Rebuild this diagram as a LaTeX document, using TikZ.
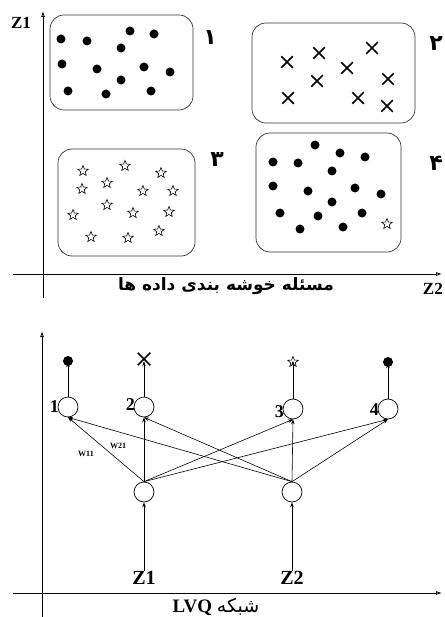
\documentclass[tikz,border=0pt]{standalone}
\usepackage{fontspec}
\setmainfont{Liberation Serif}
\newfontfamily\fa[Script=Arabic]{DejaVu Sans}
\TeXXeTstate=1
\usetikzlibrary{shapes.geometric,shapes.misc,arrows.meta}
\tikzset{
  cluster/.style={draw=black!80,rounded corners=14pt,line width=0.7pt},
  dotmark/.style={circle,fill=black,inner sep=0pt,minimum size=9pt},
  starmark/.style={star,star points=5,star point ratio=2.3,draw,inner sep=0pt,minimum size=11pt,line width=0.6pt},
  crossmark/.style={cross out,draw,inner sep=0pt,minimum size=10pt,line width=1.5pt},
  axis/.style={line width=0.8pt,-{Latex[open,length=6pt,width=4pt]}},
  neuron/.style={circle,draw,line width=0.7pt,minimum size=20pt,inner sep=0pt},
  conn/.style={line width=0.6pt,-{Stealth[length=5pt,width=3.5pt]}},
  digit/.style={font=\fa\bfseries\fontsize{22}{24}\selectfont,inner sep=0pt},
  lbl/.style={font=\bfseries\fontsize{17}{19}\selectfont,inner sep=0pt},
  numlbl/.style={font=\bfseries\fontsize{18}{20}\selectfont,inner sep=0pt},
  biglbl/.style={font=\bfseries\fontsize{20}{22}\selectfont,inner sep=0pt},
  wlbl/.style={font=\bfseries\fontsize{8}{9}\selectfont,inner sep=0pt}
}
\begin{document}
\begin{tikzpicture}[x=1pt,y=-1pt]
\useasboundingbox (0,0) rectangle (444,617);
\fill[white] (0,0) rectangle (444,617);

% ---------- top: clustering problem ----------
\coordinate (ta1) at (43,298);
\coordinate (ta2) at (43,11);
\coordinate (tb1) at (13,274);
\coordinate (tb2) at (442,274);
\draw[axis] (ta1) -- (ta2);
\draw[axis] (tb1) -- (tb2);
\node[lbl] (tz1) at (21,23) {Z1};
\node[lbl,anchor=east] (tz2) at (443,289) {Z2};
\node[font=\fa\bfseries\fontsize{17}{19}\selectfont] (tcap) at (226,286) {\beginR مسئله خوشه بندی داده ها\endR};

\draw[cluster] (50,15) rectangle (193,110);
\draw[cluster] (252,23) rectangle (415,123);
\draw[cluster] (58,149) rectangle (195,256);
\draw[cluster] (256,133) rectangle (401,252);

\node[digit] (n1) at (210,38) {۱};
\node[digit,anchor=east] (n2) at (443,44) {۲};
\node[digit] (n3) at (217,160) {۳};
\node[digit,anchor=east] (n4) at (443,163) {۴};

\foreach \p [count=\i] in {(61,39),(87,41),(130,31),(154,34),(121,48),(62,64),(97,69),(144,67),(170,72),(121,80),(68,91),(106,94),(151,91)}
  \node[dotmark] (da\i) at \p {};
\foreach \p [count=\i] in {(287,62),(319,53),(372,48),(347,68),(317,81),(388,79),(288,98),(358,98),(387,106)}
  \node[crossmark] (xa\i) at \p {};
\foreach \p [count=\i] in {(83,171),(125,166),(161,173),(82,189),(107,183),(143,191),(173,191),(107,205),(73,215),(133,213),(169,212),(91,237),(128,238),(159,231)}
  \node[starmark] (sa\i) at \p {};
\foreach \p [count=\i] in {(315,145),(340,153),(365,157),(273,162),(298,163),(332,171),(273,186),(308,191),(355,188),(381,194),(332,202),(280,213),(318,216),(362,213),(300,229),(343,227)}
  \node[dotmark] (db\i) at \p {};
\node[starmark] (sb1) at (387,224) {};

% ---------- bottom: LVQ network ----------
\coordinate (ba1) at (42,617);
\coordinate (ba2) at (42,331);
\coordinate (bb1) at (13,593);
\coordinate (bb2) at (442,593);
\draw[axis] (ba1) -- (ba2);
\draw[axis] (bb1) -- (bb2);
\node[font=\fontsize{19}{21}\selectfont,inner sep=0pt] (bcap) at (216,607) {\beginR{\fa شبکه} \beginL{\bfseries LVQ}\endL\endR};

\node[neuron] (o1) at (68,407) {};
\node[neuron] (o2) at (144,407) {};
\node[neuron] (o3) at (293,409) {};
\node[neuron] (o4) at (388,409) {};
\node[neuron] (i1) at (144,492) {};
\node[neuron] (i2) at (292,492) {};

\node[numlbl,anchor=east] (l1) at (59,407) {1};
\node[numlbl,anchor=east] (l2) at (135,405) {2};
\node[numlbl,anchor=east] (l3) at (284,412) {3};
\node[numlbl,anchor=east] (l4) at (379,410) {4};

\node[dotmark,minimum size=10pt] (s1) at (68,361) {};
\node[crossmark,minimum size=11pt] (s2) at (144,359) {};
\node[starmark] (s3) at (293,362) {};
\node[dotmark,minimum size=10pt] (s4) at (388,362) {};

\foreach \k in {1,2,3,4}
  \draw[conn] (o\k.north) -- ([yshift=4pt]s\k.south);

\node[biglbl] (z1) at (144,578) {Z1};
\node[biglbl] (z2) at (292,578) {Z2};
\draw[conn] (z1.north) -- (i1.south);
\draw[conn] (z2.north) -- (i2.south);

\foreach \j in {1,2}
  \foreach \k in {1,2,3,4}
    \draw[conn] (i\j.north) -- (o\k.south);

\node[wlbl] (w11) at (86,454) {W11};
\node[wlbl] (w21) at (118,446) {W21};
\end{tikzpicture}
\end{document}
